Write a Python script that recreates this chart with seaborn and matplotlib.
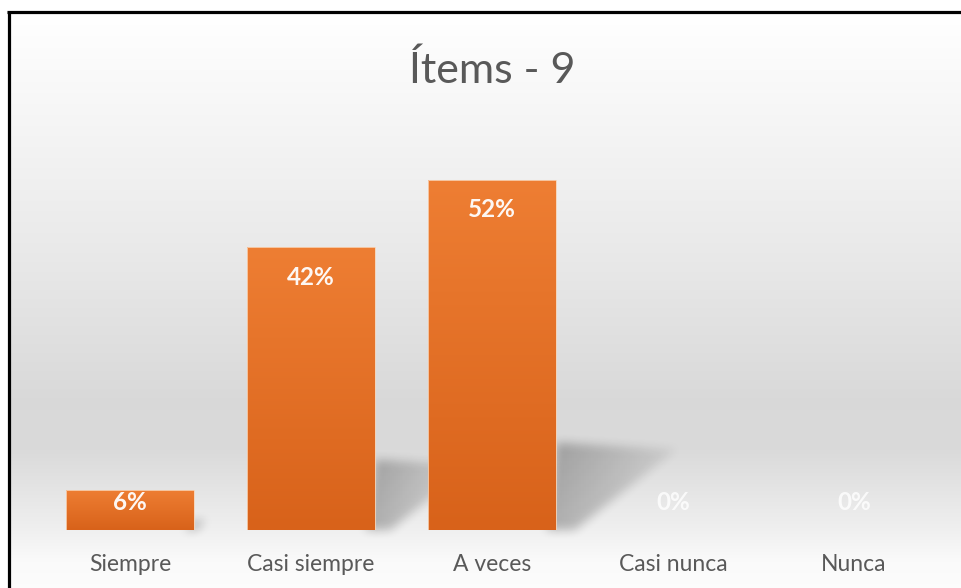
import numpy as np
import matplotlib
matplotlib.use('Agg')
import matplotlib.pyplot as plt
import seaborn as sns
from matplotlib.colors import LinearSegmentedColormap
from matplotlib.path import Path

# data
categorias = ['Siempre', 'Casi siempre', 'A veces', 'Casi nunca', 'Nunca']
porcentajes = [6, 42, 52, 0, 0]
titulo = 'Ítems - 9'

sns.set_theme(style='white')
plt.rcParams['font.family'] = ['Lato', 'DejaVu Sans']

W, H = 961, 588
fig = plt.figure(figsize=(W / 100, H / 100), dpi=100)
fig.patch.set_facecolor('white')

# background: gray gradient inside a black frame (cropped on right/bottom)
bg = fig.add_axes([0, 0, 1, 1])
bg.set_xlim(0, W)
bg.set_ylim(H, 0)
bg.axis('off')
rows = np.arange(H)
grey = np.interp(rows, [13, 100, 250, 400, 450, 530, 560, 588],
                 [1.0, 0.97, 0.915, 0.85, 0.855, 0.94, 0.98, 0.99])
img = np.ones((H, W, 3))
img[:, :, :] = grey[:, None, None]
img[:13, :, :] = 1.0
img[:, :9, :] = 1.0
bg.imshow(img, extent=(0, W, H, 0), aspect='auto', zorder=0)
bg.plot([8.5, 8.5], [H, 11], color='black', lw=2.3, solid_capstyle='butt', zorder=2)
bg.plot([7.3, W], [11.5, 11.5], color='black', lw=2.3, solid_capstyle='butt', zorder=2)

# main axes: category centres 181 px apart, baseline at y=530
ax = fig.add_axes([39.5 / W, 58 / H, 905 / W, 404 / H])
ax.patch.set_alpha(0)
sns.barplot(x=categorias, y=porcentajes, ax=ax, width=0.707, color='#E46C22',
            edgecolor='#f7d3b5', linewidth=0.6, zorder=3)
ax.set_xlim(-0.5, 4.5)
ax.set_ylim(0, 60)
for s in ax.spines.values():
    s.set_visible(False)
ax.set_yticks([])
ax.set_xlabel('')
ax.set_ylabel('')
ax.tick_params(axis='x', length=0, pad=17, labelsize=16.5, labelcolor='#595959')

# soft perspective shadows behind each bar
alpha = np.zeros((H, W))
yy, xx = np.mgrid[0:H, 0:W]
pts = np.column_stack([xx.ravel() + 0.5, yy.ravel() + 0.5])
for p, v in zip(ax.patches, porcentajes):
    if v <= 0:
        continue
    xr = p.get_x() + p.get_width()
    verts = np.array([[xr - 0.05, 0], [xr, 0.25 * v], [xr + 0.0128 * v, 0.23 * v],
                      [xr + 0.002 * v, 0], [xr - 0.05, 0]])
    disp = ax.transData.transform(verts)
    disp[:, 1] = H - disp[:, 1]
    inside = Path(disp).contains_points(pts).reshape(H, W)
    x_edge = disp[1, 0]
    x_tip = disp[2, 0]
    fade = np.clip(1 - (xx - x_edge) / max(x_tip - x_edge, 1) * 0.75, 0.2, 1)
    alpha = np.maximum(alpha, inside * fade)

k = np.ones(11) / 11
for _ in range(2):
    alpha = np.apply_along_axis(lambda r: np.convolve(r, k, mode='same'), 1, alpha)
    alpha = np.apply_along_axis(lambda c: np.convolve(c, k, mode='same'), 0, alpha)
shadow = np.zeros((H, W, 4))
shadow[:, :, 3] = alpha * 0.26
bg.imshow(shadow, extent=(0, W, H, 0), aspect='auto', zorder=1)

# gradient fill of the bars
cmap = LinearSegmentedColormap.from_list('naranja', ['#D8621A', '#EE7E33'])
grad = np.linspace(0, 1, 256).reshape(-1, 1)
for p in ax.patches:
    h = p.get_height()
    if h <= 0:
        continue
    x0 = p.get_x()
    im = ax.imshow(grad, cmap=cmap, origin='lower', aspect='auto',
                   extent=(x0, x0 + p.get_width(), 0, h), zorder=3.5)
    im.set_clip_path(p)
    p.set_facecolor('none')
    p.set_zorder(4)
ax.set_xlim(-0.5, 4.5)
ax.set_ylim(0, 60)

# value labels inside the top of the bars
for i, v in enumerate(porcentajes):
    y_lab = max(v - 4.45, 4.15)
    ax.text(i, y_lab, f'{v}%', ha='center', va='center', color='white',
            fontsize=17.5, fontweight='bold', alpha=0.95 if v > 0 else 0.8, zorder=5)

fig.text(492 / W, 1 - 70 / H, titulo, ha='center', va='center',
         fontsize=31, color='#595959')

fig.savefig('out.png', dpi=100)
